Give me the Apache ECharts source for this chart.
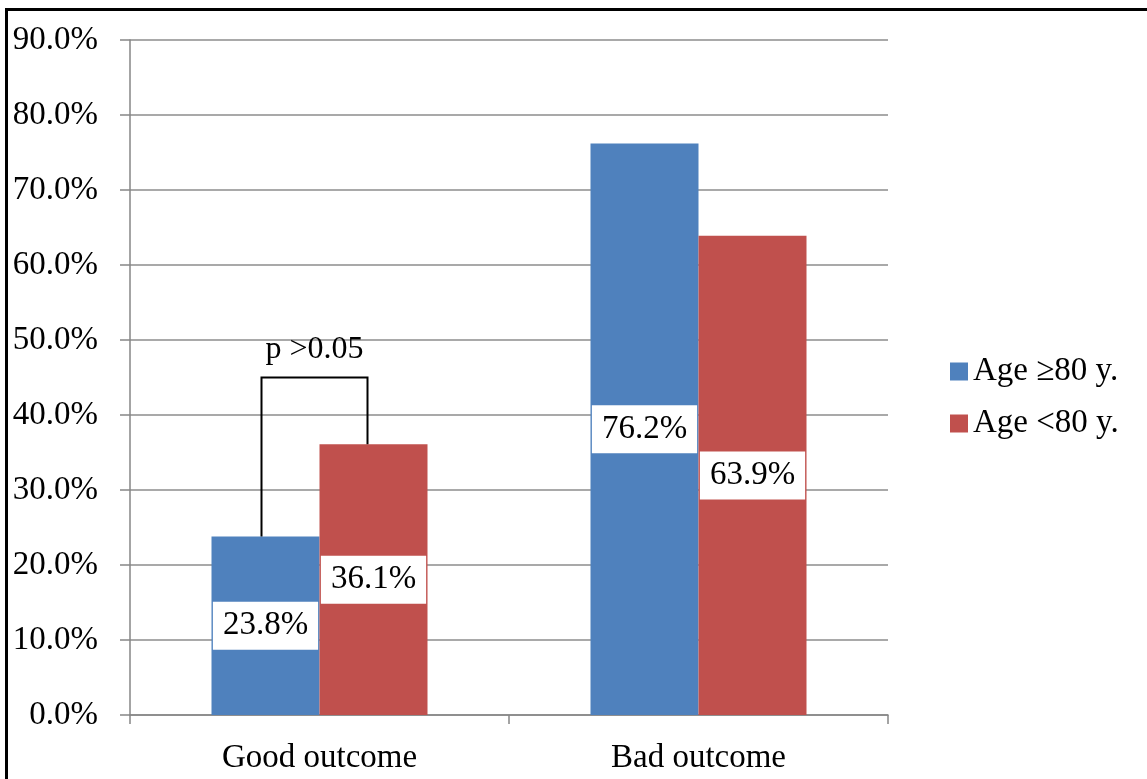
<!DOCTYPE html>
<html>
<head>
<meta charset="utf-8">
<script src="https://cdn.jsdelivr.net/npm/echarts@6/dist/echarts.min.js"></script>
<style>
  html, body { margin: 0; padding: 0; background: #fff; }
  #chart { width: 1147px; height: 779px; }
</style>
</head>
<body>
<div id="chart"></div>
<script>
// Outcome shares by age group
const categories = ['Good outcome', 'Bad outcome'];
const seriesNames = ['Age \u226580 y.', 'Age <80 y.'];
const ageOver80 = [23.8, 76.2];
const ageUnder80 = [36.1, 63.9];
const bracketLevel = 45;         // height of the significance bracket (%)
const bracketText = 'p >0.05';

const FONT = '"Liberation Serif", "Times New Roman", serif';
const FS = 33;
const BAR_W = 108;
const colors = ['#4F81BD', '#C0504D'];

const chart = echarts.init(document.getElementById('chart'));

const valueLabel = {
  show: true,
  position: 'inside',
  formatter: p => p.value.toFixed(1) + '%',
  color: '#000',
  fontFamily: FONT,
  fontSize: FS,
  backgroundColor: '#fff',
  padding: [8, 10, 7, 10]
};

chart.setOption({
  animation: false,
  backgroundColor: '#fff',
  textStyle: { fontFamily: FONT },
  grid: { left: 130, right: 259, top: 40, bottom: 64 },
  legend: {
    orient: 'vertical',
    left: 945,
    top: 350,
    itemWidth: 18,
    itemHeight: 18,
    itemGap: 19,
    icon: 'rect',
    textStyle: { fontFamily: FONT, fontSize: FS, color: '#000', padding: [0, 0, 0, 0] },
    data: seriesNames
  },
  xAxis: {
    type: 'category',
    data: categories,
    axisLine: { lineStyle: { color: '#868686', width: 1.5 } },
    axisTick: { show: true, length: 9, lineStyle: { color: '#868686', width: 1.5 } },
    axisLabel: { color: '#000', fontFamily: FONT, fontSize: FS, margin: 27 }
  },
  yAxis: {
    type: 'value',
    min: 0,
    max: 90,
    interval: 10,
    axisLine: { show: true, lineStyle: { color: '#868686', width: 1.5 } },
    axisTick: { show: true, length: 10, lineStyle: { color: '#868686', width: 1.5 } },
    splitLine: { lineStyle: { color: '#8c8c8c', width: 1.5 } },
    axisLabel: {
      color: '#000', fontFamily: FONT, fontSize: FS, margin: 32,
      formatter: v => v.toFixed(1) + '%'
    }
  },
  series: [
    {
      name: seriesNames[0], type: 'bar', data: ageOver80,
      barWidth: BAR_W, barGap: '0%',
      itemStyle: { color: colors[0] },
      label: valueLabel
    },
    {
      name: seriesNames[1], type: 'bar', data: ageUnder80,
      barWidth: BAR_W, barGap: '0%',
      itemStyle: { color: colors[1] },
      label: valueLabel
    }
  ]
});

// Significance bracket over the "Good outcome" pair, plus the outer frame
function drawOverlay() {
  const cx = chart.convertToPixel({ xAxisIndex: 0 }, categories[0]);
  const yTop = chart.convertToPixel({ yAxisIndex: 0 }, bracketLevel);
  const yLeft = chart.convertToPixel({ yAxisIndex: 0 }, ageOver80[0]);
  const yRight = chart.convertToPixel({ yAxisIndex: 0 }, ageUnder80[0]);
  const xl = cx - BAR_W / 2 - 4;
  const xr = cx + BAR_W / 2 - 6;
  chart.setOption({
    graphic: [
      {
        type: 'polyline',
        shape: { points: [[xl, yLeft], [xl, yTop], [xr, yTop], [xr, yRight]] },
        style: { stroke: '#000', lineWidth: 2, fill: null },
        z: 10
      },
      {
        type: 'text',
        x: (xl + xr) / 2,
        y: yTop - 12,
        style: {
          text: bracketText, fontFamily: FONT, fontSize: 32, fill: '#000',
          align: 'center', verticalAlign: 'bottom'
        },
        z: 10
      },
      {
        type: 'rect',
        shape: { x: 6.5, y: 9.5, width: 1300, height: 1000 },
        style: { stroke: '#000', lineWidth: 3, fill: null },
        z: 20
      }
    ]
  });
}
drawOverlay();
</script>
</body>
</html>
